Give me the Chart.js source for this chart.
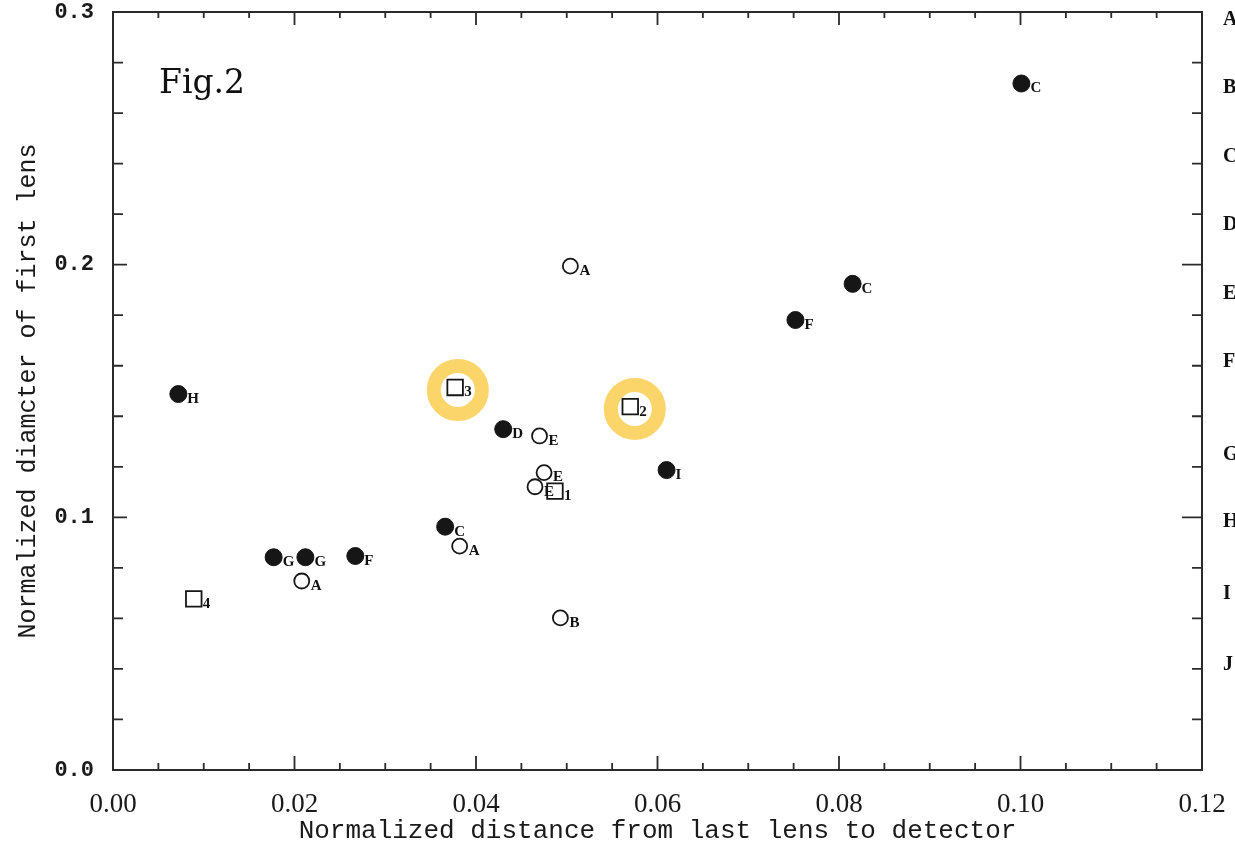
<!DOCTYPE html>
<html>
<head>
<meta charset="utf-8">
<title>Fig.2</title>
<script src="https://cdn.jsdelivr.net/npm/chart.js@4/dist/chart.umd.min.js"></script>
<style>
    html, body { margin: 0; padding: 0; background: #ffffff; }
    #wrap { width: 1235px; height: 847px; position: relative; }
</style>
</head>
<body>
<div id="wrap"><canvas id="figChart"></canvas></div>
<script>
// Axis tick labels
const xTickValues = [0, 0.02, 0.04, 0.06, 0.08, 0.10, 0.12];
const yTickValues = [0, 0.1, 0.2, 0.3];

// Letters printed down the right-hand side
const sideLetters = ['A', 'B', 'C', 'D', 'E', 'F', 'G', 'H', 'I', 'J'];
const sideLetterY = [0.2968, 0.2699, 0.2426, 0.2157, 0.1884, 0.1615, 0.1247, 0.0981, 0.0696, 0.0416];

// Filled circles
const filledX = [0.0072, 0.0177, 0.0212, 0.0267, 0.0366, 0.0430, 0.0610, 0.0752, 0.0815, 0.1001];
const filledY = [0.1488, 0.0842, 0.0842, 0.0847, 0.0963, 0.1349, 0.1187, 0.1781, 0.1924, 0.2717];
const filledLabels = ['H', 'G', 'G', 'F', 'C', 'D', 'I', 'F', 'C', 'C'];

// Open circles
const openX = [0.0208, 0.0382, 0.0493, 0.0470, 0.0475, 0.0465, 0.0504];
const openY = [0.0748, 0.0886, 0.0602, 0.1322, 0.1177, 0.1121, 0.1994];
const openLabels = ['A', 'A', 'B', 'E', 'E', 'E', 'A'];

// Open squares
const squareX = [0.0089, 0.0377, 0.0570, 0.0487];
const squareY = [0.0677, 0.1514, 0.1438, 0.1104];
const squareLabels = ['4', '3', '2', '1'];

// Yellow highlight rings (around squares 3 and 2)
const ringX = [0.0380, 0.0575];
const ringY = [0.1504, 0.1429];

function toPoints(xs, ys) {
    return xs.map((x, i) => ({ x: x, y: ys[i] }));
}

// keep the plot frame where the figure has it: no label overflow padding
function fixBox(size) {
    return scale => {
        if (scale.isHorizontal()) scale.height = size; else scale.width = size;
        scale.paddingTop = 0;
        scale.paddingBottom = 0;
        scale.paddingLeft = 0;
        scale.paddingRight = 0;
    };
}

const inkColor = '#161616';

// Frame with inward tick marks on all four sides, plus the "Fig.2" note
const framePlugin = {
    id: 'frame',
    afterDatasetsDraw(chart) {
        const ctx = chart.ctx;
        const area = chart.chartArea;
        const xs = chart.scales.x;
        const ys = chart.scales.y;
        ctx.save();
        ctx.strokeStyle = '#2b2b2b';
        ctx.lineWidth = 2;
        ctx.strokeRect(area.left, area.top, area.right - area.left, area.bottom - area.top);

        ctx.lineWidth = 1.8;
        ctx.beginPath();
        // x ticks every 0.005, longer every 0.02
        const nx = Math.round((xs.max - xs.min) / 0.005);
        for (let i = 0; i <= nx; i++) {
            const px = xs.getPixelForValue(xs.min + i * 0.005);
            const major = i % 4 === 0;
            ctx.moveTo(px, area.bottom);
            ctx.lineTo(px, area.bottom - (major ? 14 : 7));
            ctx.moveTo(px, area.top);
            ctx.lineTo(px, area.top + (major ? 13 : 6));
        }
        // y ticks every 0.02, longer every 0.1
        const ny = Math.round((ys.max - ys.min) / 0.02);
        for (let i = 0; i <= ny; i++) {
            const py = ys.getPixelForValue(ys.min + i * 0.02);
            const major = i % 5 === 0;
            ctx.moveTo(area.left, py);
            ctx.lineTo(area.left + (major ? 14 : 10), py);
            ctx.moveTo(area.right, py);
            ctx.lineTo(area.right - (major ? 20 : 10), py);
        }
        ctx.stroke();

        ctx.fillStyle = '#111';
        ctx.font = '33px "DejaVu Serif"';
        ctx.textAlign = 'left';
        ctx.textBaseline = 'alphabetic';
        ctx.fillText('Fig.2', area.left + 46, area.top + 81);
        ctx.restore();
    }
};

// Small bold letters beside each marker
const pointLabelPlugin = {
    id: 'pointLabels',
    afterDatasetsDraw(chart) {
        const ctx = chart.ctx;
        ctx.save();
        ctx.fillStyle = '#111';
        ctx.font = 'bold 15px "Liberation Serif"';
        ctx.textAlign = 'left';
        ctx.textBaseline = 'middle';
        chart.data.datasets.forEach((ds, di) => {
            if (!ds.pointLabels) return;
            const meta = chart.getDatasetMeta(di);
            meta.data.forEach((el, i) => {
                ctx.fillText(ds.pointLabels[i], el.x + 9, el.y + 5);
            });
        });
        ctx.restore();
    }
};

document.addEventListener('DOMContentLoaded', function() {
    const canvas = document.getElementById('figChart');
    const ctx = canvas.getContext('2d');

    new Chart(ctx, {
        type: 'scatter',
        data: {
            datasets: [
                {
                    label: 'filled',
                    data: toPoints(filledX, filledY),
                    pointLabels: filledLabels,
                    pointStyle: 'circle',
                    pointRadius: 8.5,
                    backgroundColor: inkColor,
                    borderColor: inkColor,
                    borderWidth: 1,
                    order: 0
                },
                {
                    label: 'open',
                    data: toPoints(openX, openY),
                    pointLabels: openLabels,
                    pointStyle: 'circle',
                    pointRadius: 7.5,
                    backgroundColor: 'rgba(255, 255, 255, 0.6)',
                    borderColor: inkColor,
                    borderWidth: 1.8,
                    order: 1
                },
                {
                    label: 'square',
                    data: toPoints(squareX, squareY),
                    pointLabels: squareLabels,
                    pointStyle: 'rect',
                    pointRadius: 11,
                    backgroundColor: 'rgba(255, 255, 255, 0.6)',
                    borderColor: inkColor,
                    borderWidth: 1.8,
                    order: 2
                },
                {
                    label: 'highlight',
                    data: toPoints(ringX, ringY),
                    pointStyle: 'circle',
                    pointRadius: 24,
                    backgroundColor: 'rgba(0, 0, 0, 0)',
                    borderColor: 'rgba(251, 211, 98, 0.95)',
                    borderWidth: 14,
                    order: 10
                }
            ]
        },
        options: {
            responsive: true,
            maintainAspectRatio: false,
            animation: false,
            layout: {
                autoPadding: false,
                padding: { top: 12, right: 0, bottom: 0, left: 0 }
            },
            plugins: {
                legend: { display: false },
                tooltip: { enabled: false }
            },
            scales: {
                x: {
                    type: 'linear',
                    position: 'bottom',
                    min: 0,
                    max: 0.12,
                    afterBuildTicks: scale => {
                        scale.ticks = xTickValues.map(v => ({ value: v }));
                    },
                    afterFit: fixBox(77),
                    grid: { display: false },
                    border: { display: false },
                    ticks: {
                        autoSkip: false,
                        maxRotation: 0,
                        padding: 11,
                        color: '#1a1a1a',
                        font: { family: '"Liberation Serif"', size: 27 },
                        callback: v => Number(v).toFixed(2)
                    },
                    title: {
                        display: true,
                        text: 'Normalized distance from last lens to detector',
                        color: '#1a1a1a',
                        font: { family: '"Liberation Mono"', size: 26, lineHeight: 1.2 },
                        padding: { top: 0, bottom: 0 }
                    }
                },
                y: {
                    type: 'linear',
                    position: 'left',
                    min: 0,
                    max: 0.3,
                    afterBuildTicks: scale => {
                        scale.ticks = yTickValues.map(v => ({ value: v }));
                    },
                    afterFit: fixBox(113),
                    grid: { display: false },
                    border: { display: false },
                    ticks: {
                        autoSkip: false,
                        padding: 11,
                        color: '#1a1a1a',
                        font: { family: '"Liberation Mono"', size: 22, weight: 'bold' },
                        callback: v => Number(v).toFixed(1)
                    },
                    title: {
                        display: true,
                        text: 'Normalized diamcter of first lens',
                        color: '#1a1a1a',
                        font: { family: '"Liberation Mono"', size: 25, lineHeight: 1.2 },
                        padding: { top: 13, bottom: 0 }
                    }
                },
                y2: {
                    type: 'linear',
                    position: 'right',
                    min: 0,
                    max: 0.3,
                    afterBuildTicks: scale => {
                        scale.ticks = sideLetterY.map(v => ({ value: v }));
                    },
                    afterFit: fixBox(33),
                    grid: { display: false },
                    border: { display: false },
                    ticks: {
                        autoSkip: false,
                        padding: 13,
                        color: '#111',
                        font: { family: '"Liberation Serif"', size: 20, weight: 'bold' },
                        callback: (v, i) => sideLetters[i]
                    }
                }
            }
        },
        plugins: [framePlugin, pointLabelPlugin]
    });
});
</script>
</body>
</html>
